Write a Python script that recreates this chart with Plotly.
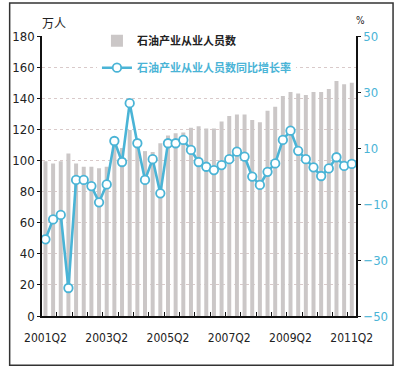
import plotly.graph_objects as go

quarters = [f"{y}Q{q}" for y in range(2001, 2012) for q in range(1, 5)][1:42]
employees = [99.5, 98, 99.5, 104.5, 98, 96, 96, 95, 96, 110, 108, 119.5, 111, 106,
             105.5, 111, 116, 117.5, 118, 121, 122, 120.5, 120.5, 125, 128.5, 129.5,
             129.5, 126, 124.5, 132, 134.5, 141.5, 144, 143, 142, 144, 144, 146, 151,
             149, 150]
growth = [-22.6, -15.5, -13.9, -40.0, -1.4, -1.4, -3.6, -9.4, -3.0, 12.5, 5.0, 26.0,
          11.7, -1.4, 6.0, -6.2, 11.7, 11.7, 12.9, 9.3, 5.0, 3.3, 2.1, 3.9, 6.0, 8.7,
          6.9, -0.2, -3.2, 1.5, 4.5, 12.9, 16.2, 9.0, 6.0, 3.1, 0.0, 2.7, 6.7, 3.6, 4.3]
tick_labels = quarters[::8]
name_bar = "石油产业从业人员数"
name_line = "石油产业从业人员数同比增长率"

CYAN = "#4ab4d6"
BAR = "#cbc7c7"
NARROW = "DejaVu Sans Condensed, Liberation Sans Narrow, Arial Narrow, Liberation Sans, sans-serif"
CJK = "Noto Sans CJK SC, sans-serif"

xs = list(range(len(quarters)))

fig = go.Figure()
fig.add_trace(go.Bar(x=xs, y=employees, name=f"<b>{name_bar}</b>",
                     marker=dict(color=BAR, line=dict(width=0)), width=0.52,
                     legendgroup="a", yaxis="y"))
fig.add_trace(go.Scatter(x=xs, y=growth, name=f"<b><span style='color:{CYAN}'>{name_line}</span></b>",
                         mode="lines+markers", line=dict(color=CYAN, width=2.6),
                         marker=dict(symbol="circle", size=8.5, color="white",
                                     line=dict(color=CYAN, width=1.8)),
                         legendgroup="b", yaxis="y2"))

fig.update_layout(
    width=400, height=370,
    margin=dict(l=36, r=42, t=36, b=54),
    paper_bgcolor="white", plot_bgcolor="white",
    font=dict(family=NARROW, size=12, color="#222"),
    showlegend=True,
    legend=dict(x=0.175, y=1.035, xanchor="left", yanchor="top",
                bgcolor="white", font=dict(family=CJK, size=11, color="#222"),
                tracegroupgap=8, itemwidth=30),
    xaxis=dict(range=[-0.45, 40.55], tickmode="array",
               tickvals=xs[::8], ticktext=tick_labels,
               showline=True, linecolor="#111", linewidth=1.5,
               ticks="", showgrid=False, zeroline=False, ticklabelstandoff=10,
               tickfont=dict(family=NARROW, size=12, color="#222"),
               minor=dict(tickmode="linear", ticks="inside", tick0=1.5, dtick=2,
                          ticklen=4, tickwidth=1.2, tickcolor="#111", showgrid=False)),
    yaxis=dict(range=[0, 180], dtick=20, showline=True, linecolor="#111",
               linewidth=1.5, ticks="outside", ticklen=3, tickcolor="#111",
               showgrid=True, gridcolor="#d9caca", griddash="dot", gridwidth=1,
               zeroline=False,
               tickfont=dict(family=NARROW, size=13, color="#222")),
    yaxis2=dict(range=[-50, 50], tick0=-50, dtick=20, overlaying="y", side="right",
                showline=True, linecolor="#111", linewidth=1.5, ticks="outside",
                ticklen=3, tickcolor="#111", showgrid=False, zeroline=False,
                tickfont=dict(family=NARROW, size=13, color=CYAN)),
    bargap=0.45,
)

fig.add_annotation(text="万人", xref="paper", yref="paper", x=-0.005, y=1.012,
                   xanchor="left", yanchor="bottom", showarrow=False,
                   font=dict(family=CJK, size=12, color="#222"))
fig.add_annotation(text="%", xref="paper", yref="paper", x=0.995, y=1.03,
                   xanchor="left", yanchor="bottom", showarrow=False,
                   font=dict(family=NARROW, size=10, color="#222"))

fig.add_shape(type="rect", xref="paper", yref="paper",
              x0=-0.103, x1=1.118, y0=-0.176, y1=1.118,
              line=dict(color="#333", width=1.5), fillcolor="rgba(0,0,0,0)")

fig.write_html("out.html", config={"displayModeBar": False},
               post_script="document.body.style.margin='0';")
